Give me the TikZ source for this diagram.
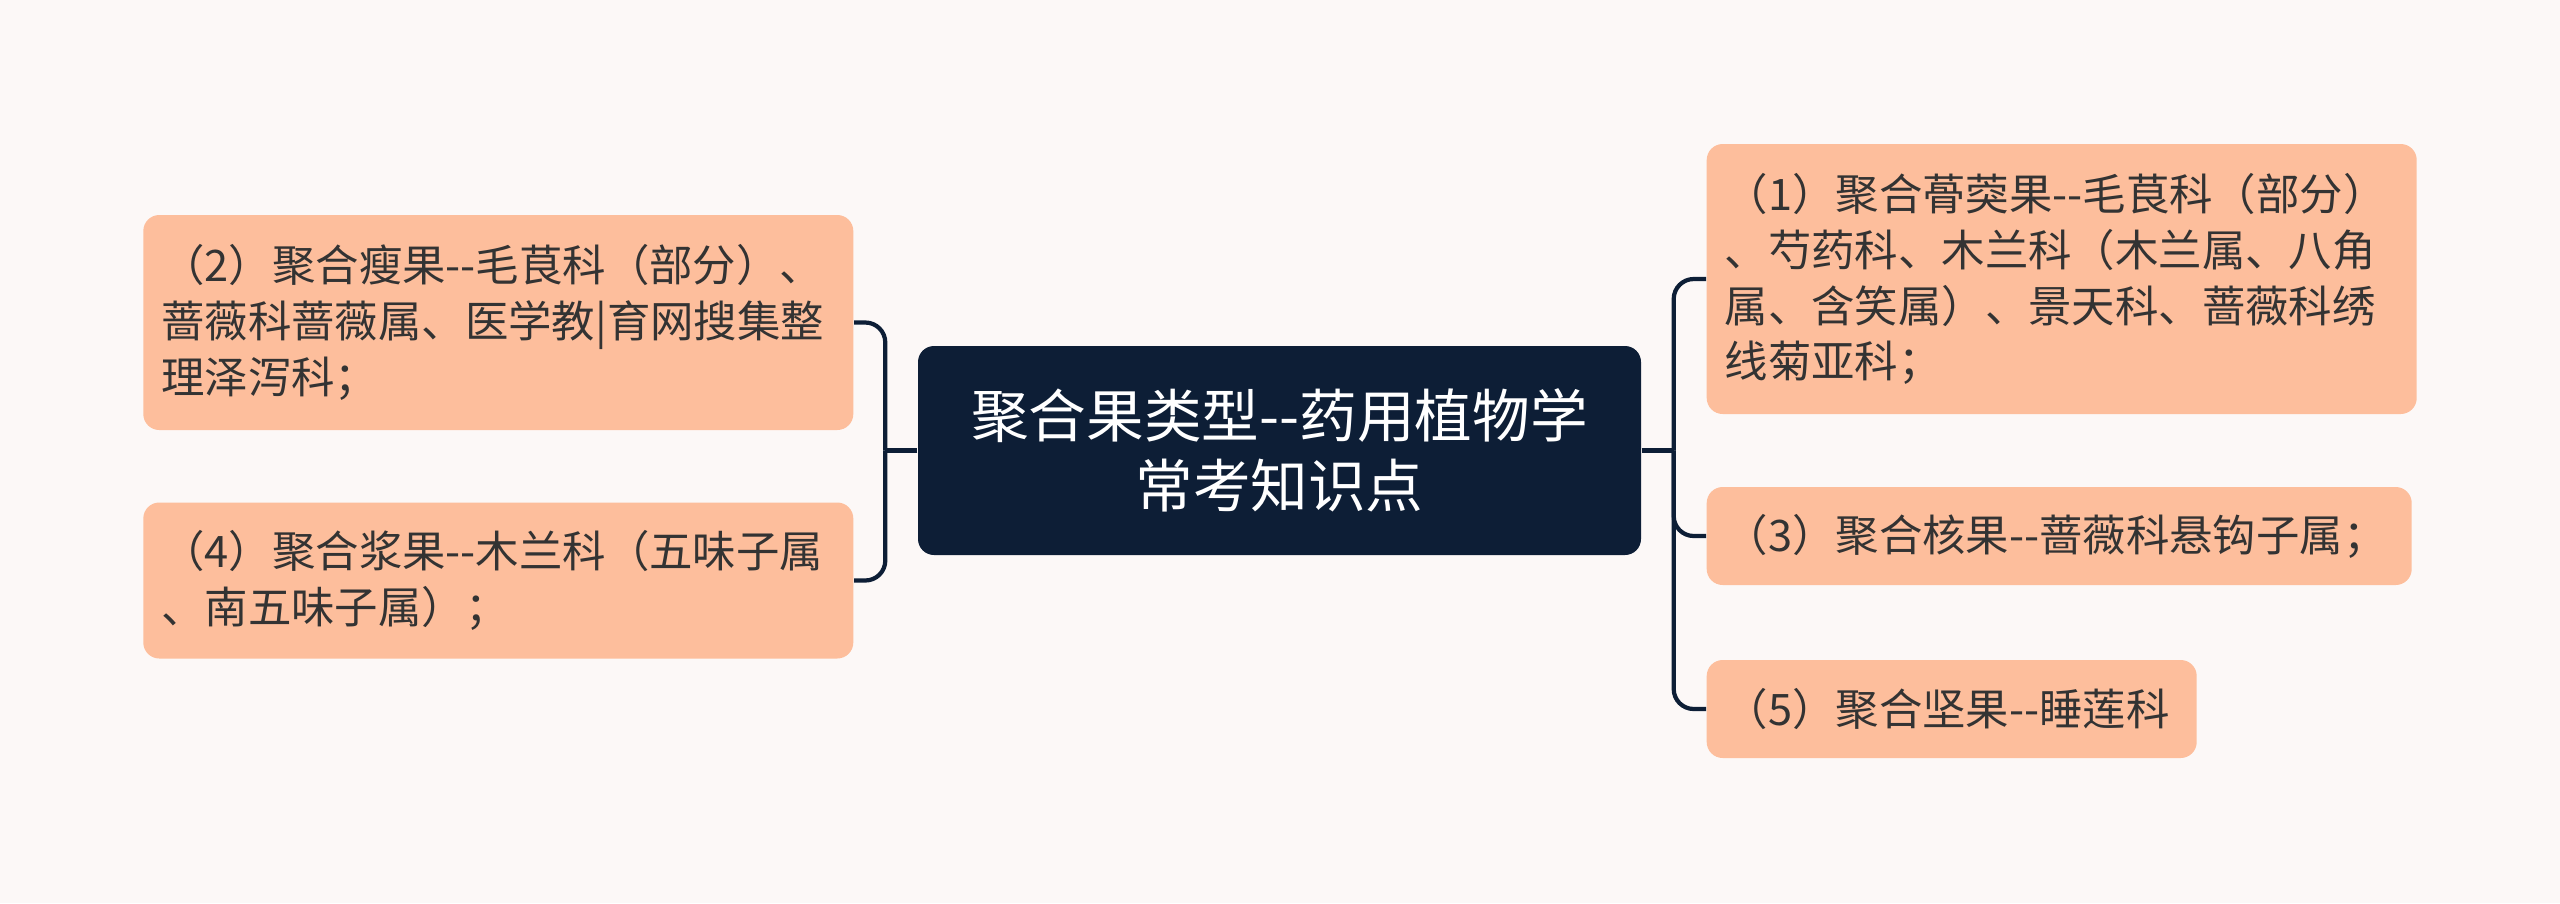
\documentclass[tikz,border=0pt]{standalone}
\usepackage{fontspec}
\newfontfamily\cjk{Noto Sans CJK SC}
\definecolor{bgpink}{RGB}{252,248,247}
\definecolor{peach}{RGB}{253,190,156}
\definecolor{navy}{RGB}{13,30,54}
\definecolor{ink}{RGB}{51,51,51}

\begin{document}
\begin{tikzpicture}[
  leaf/.style={fill=peach, rounded corners=0.16cm, text=ink, align=left, inner xsep=0.18cm, inner ysep=0pt, font=\cjk\fontsize{12.35}{15.9}\selectfont},
  root/.style={fill=navy, rounded corners=0.16cm, text=white, align=center, font=\cjk\fontsize{16.4}{19.9}\selectfont, minimum width=7.23cm, minimum height=2.09cm},
  link/.style={draw=navy, line width=1.2pt, rounded corners=0.2cm}]
\fill[bgpink] (0,0) rectangle (25.6,-9.03);
\useasboundingbox (0,0) rectangle (25.6,-9.03);
%centre
\node[root] (main) at (12.795,-4.505) {聚合果类型-{}-药用植物学\\常考知识点};
\coordinate (jl) at ([xshift=-0.32cm]main.west);
\coordinate (jr) at ([xshift=0.32cm]main.east);
%left
\node[leaf, anchor=east, text width=6.74cm, minimum height=2.15cm] (f2) at (8.54,-3.225)
  {（2）聚合瘦果-{}-毛茛科（部分）、\\蔷薇科蔷薇属、医学教|育网搜集整\\理泽泻科；};
\node[leaf, anchor=east, text width=6.74cm, minimum height=1.56cm] (f4) at (8.54,-5.805)
  {（4）聚合浆果-{}-木兰科（五味子属\\、南五味子属）；};
%right
\node[leaf, anchor=west, text width=6.74cm, minimum height=2.70cm] (f1) at (17.06,-2.79)
  {（1）聚合蓇葖果-{}-毛茛科（部分）\\、芍药科、木兰科（木兰属、八角\\属、含笑属）、景天科、蔷薇科绣\\线菊亚科；};
\node[leaf, anchor=west, text width=6.69cm, minimum height=0.98cm] (f3) at (17.06,-5.36)
  {\mbox{（3）聚合核果-{}-蔷薇科悬钩子属；}};
\node[leaf, anchor=west, text width=4.54cm, minimum height=0.98cm] (f5) at (17.06,-7.09)
  {\mbox{（5）聚合坚果-{}-睡莲科}};
%links
\draw[link] (main.west) -- (jl);
\draw[link] (jl) |- (f2.east);
\draw[link] (jl) |- (f4.east);
\draw[link] (main.east) -- (jr);
\draw[link] (jr) |- (f1.west);
\draw[link] (jr) |- (f3.west);
\draw[link] (jr) |- (f5.west);
\end{tikzpicture}
\end{document}
